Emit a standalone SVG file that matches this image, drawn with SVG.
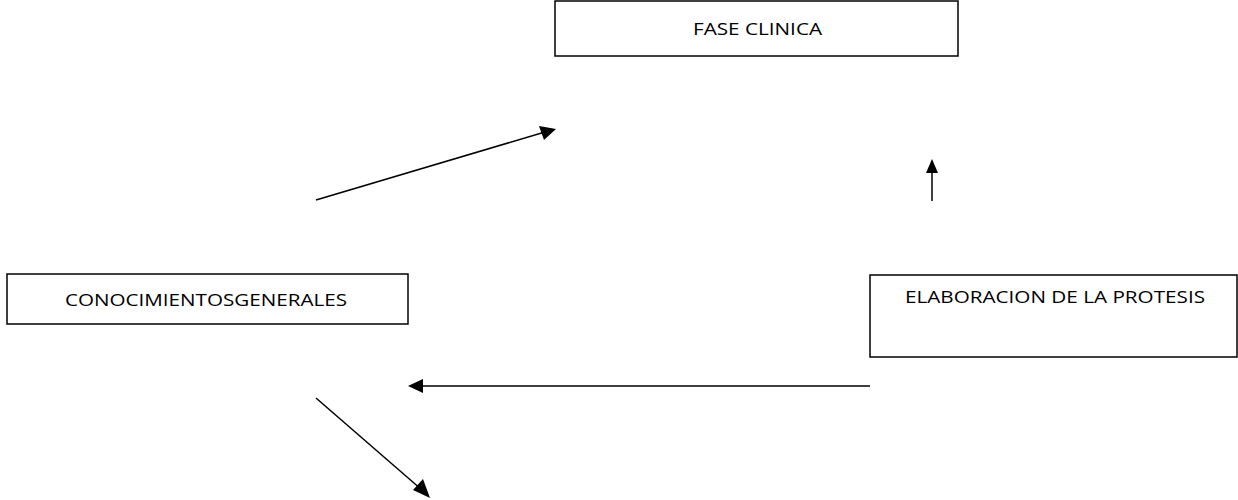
<svg xmlns="http://www.w3.org/2000/svg" width="1238" height="500" viewBox="0 0 1238 500">
<defs>
<style>
.box{fill:#fff;stroke:#000;stroke-width:1.5}
.lbl{font-family:"Open Sans","Liberation Sans",sans-serif;font-size:16.5px;fill:#000}
</style>
</defs>
<rect width="1238" height="500" fill="#fff"/>
<g id="fase-clinica">
<rect class="box" x="555" y="1" width="403" height="55"/>
<text class="lbl" x="693" y="35" textLength="129" lengthAdjust="spacingAndGlyphs">FASE CLINICA</text>
</g>
<g id="conocimientos-generales">
<rect class="box" x="7" y="274" width="401" height="50"/>
<text class="lbl" x="65" y="306" textLength="282" lengthAdjust="spacingAndGlyphs">CONOCIMIENTOSGENERALES</text>
</g>
<g id="elaboracion-protesis">
<rect class="box" x="870" y="275" width="367" height="82"/>
<text class="lbl" x="905" y="303" textLength="300" lengthAdjust="spacingAndGlyphs">ELABORACION DE LA PROTESIS</text>
</g>
<g id="connectors">
<line x1="316" y1="200" x2="545" y2="132" stroke="#000" stroke-width="1.5"/>
<path d="M556,129 L539,126 L544,140 z" fill="#000"/>
<line x1="932" y1="201" x2="932" y2="168" stroke="#000" stroke-width="1.5"/>
<path d="M932,159 L926,173 L938,173 z" fill="#000"/>
<line x1="870" y1="386" x2="420" y2="386" stroke="#000" stroke-width="1.5"/>
<path d="M408,386 L423,379 L423,393 z" fill="#000"/>
<line x1="316" y1="398" x2="422" y2="490" stroke="#000" stroke-width="1.5"/>
<path d="M430,498 L413,490 L423,479 z" fill="#000"/>
</g>
</svg>
